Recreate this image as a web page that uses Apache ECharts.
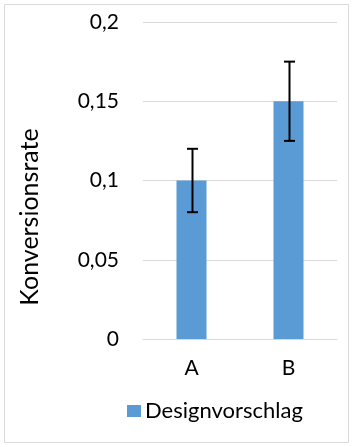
<!DOCTYPE html>
<html><head><meta charset="utf-8">
<script src="https://cdn.jsdelivr.net/npm/echarts@6/dist/echarts.min.js"></script>
<style>html,body{margin:0;padding:0;background:#fff}#c{width:355px;height:447px}</style>
</head><body><div id="c"></div>
<script>
var categories = ['A', 'B'];
var values = [0.1, 0.15];
var errLow = [0.08, 0.125];
var errHigh = [0.12, 0.175];
var seriesName = 'Designvorschlag';
var yTitle = 'Konversionsrate';
var FONT = 'Lato, "Open Sans", sans-serif';

var chart = echarts.init(document.getElementById('c'), null, {renderer: 'canvas'});
chart.setOption({
  animation: false,
  backgroundColor: '#fff',
  grid: {left: 143, right: 18, top: 22, bottom: 108},
  graphic: [
    {type: 'rect', shape: {x: 4.5, y: 4.5, width: 344, height: 438}, style: {fill: 'none', stroke: '#d9d9d9', lineWidth: 1}},
    {type: 'text', x: 30, y: 217, rotation: Math.PI / 2,
     style: {text: yTitle, fill: '#000', font: '25px ' + FONT, textAlign: 'center', textVerticalAlign: 'middle'}}
  ],
  legend: {
    top: 395, left: 122,
    itemWidth: 14, itemHeight: 12, itemGap: 6,
    icon: 'rect',
    textStyle: {fontFamily: FONT, fontSize: 22, color: '#000', padding: [0, 0, 0, -1]},
    data: [seriesName]
  },
  xAxis: {
    type: 'category', data: categories,
    axisLine: {show: true, lineStyle: {color: '#d9d9d9', width: 1}},
    axisTick: {show: false},
    axisLabel: {fontFamily: FONT, fontSize: 21, color: '#000', margin: 19}
  },
  yAxis: {
    type: 'value', min: 0, max: 0.2, interval: 0.05,
    axisLine: {show: false}, axisTick: {show: false},
    splitLine: {lineStyle: {color: '#d9d9d9', width: 1}},
    axisLabel: {fontFamily: FONT, fontSize: 21, color: '#000', margin: 24,
      formatter: function (v) { return String(Math.round(v * 100) / 100).replace('.', ','); }}
  },
  series: [
    {name: seriesName, type: 'bar', data: values, barWidth: 30,
     itemStyle: {color: '#5b9bd5'}},
    {type: 'custom', name: 'err', silent: true,
     data: categories.map(function (c, i) { return [i, errLow[i], errHigh[i]]; }),
     encode: {x: 0, y: [1, 2]},
     z: 10,
     renderItem: function (params, api) {
       var lo = api.coord([api.value(0), api.value(1)]);
       var hi = api.coord([api.value(0), api.value(2)]);
       var x = Math.round(lo[0]) + 0.5;
       var hw = 5.5;
       var st = {stroke: '#000', lineWidth: 2};
       return {type: 'group', children: [
         {type: 'line', shape: {x1: x, y1: lo[1], x2: x, y2: hi[1]}, style: st},
         {type: 'line', shape: {x1: x - hw, y1: lo[1], x2: x + hw, y2: lo[1]}, style: st},
         {type: 'line', shape: {x1: x - hw, y1: hi[1], x2: x + hw, y2: hi[1]}, style: st}
       ]};
     }}
  ]
});
</script></body></html>
